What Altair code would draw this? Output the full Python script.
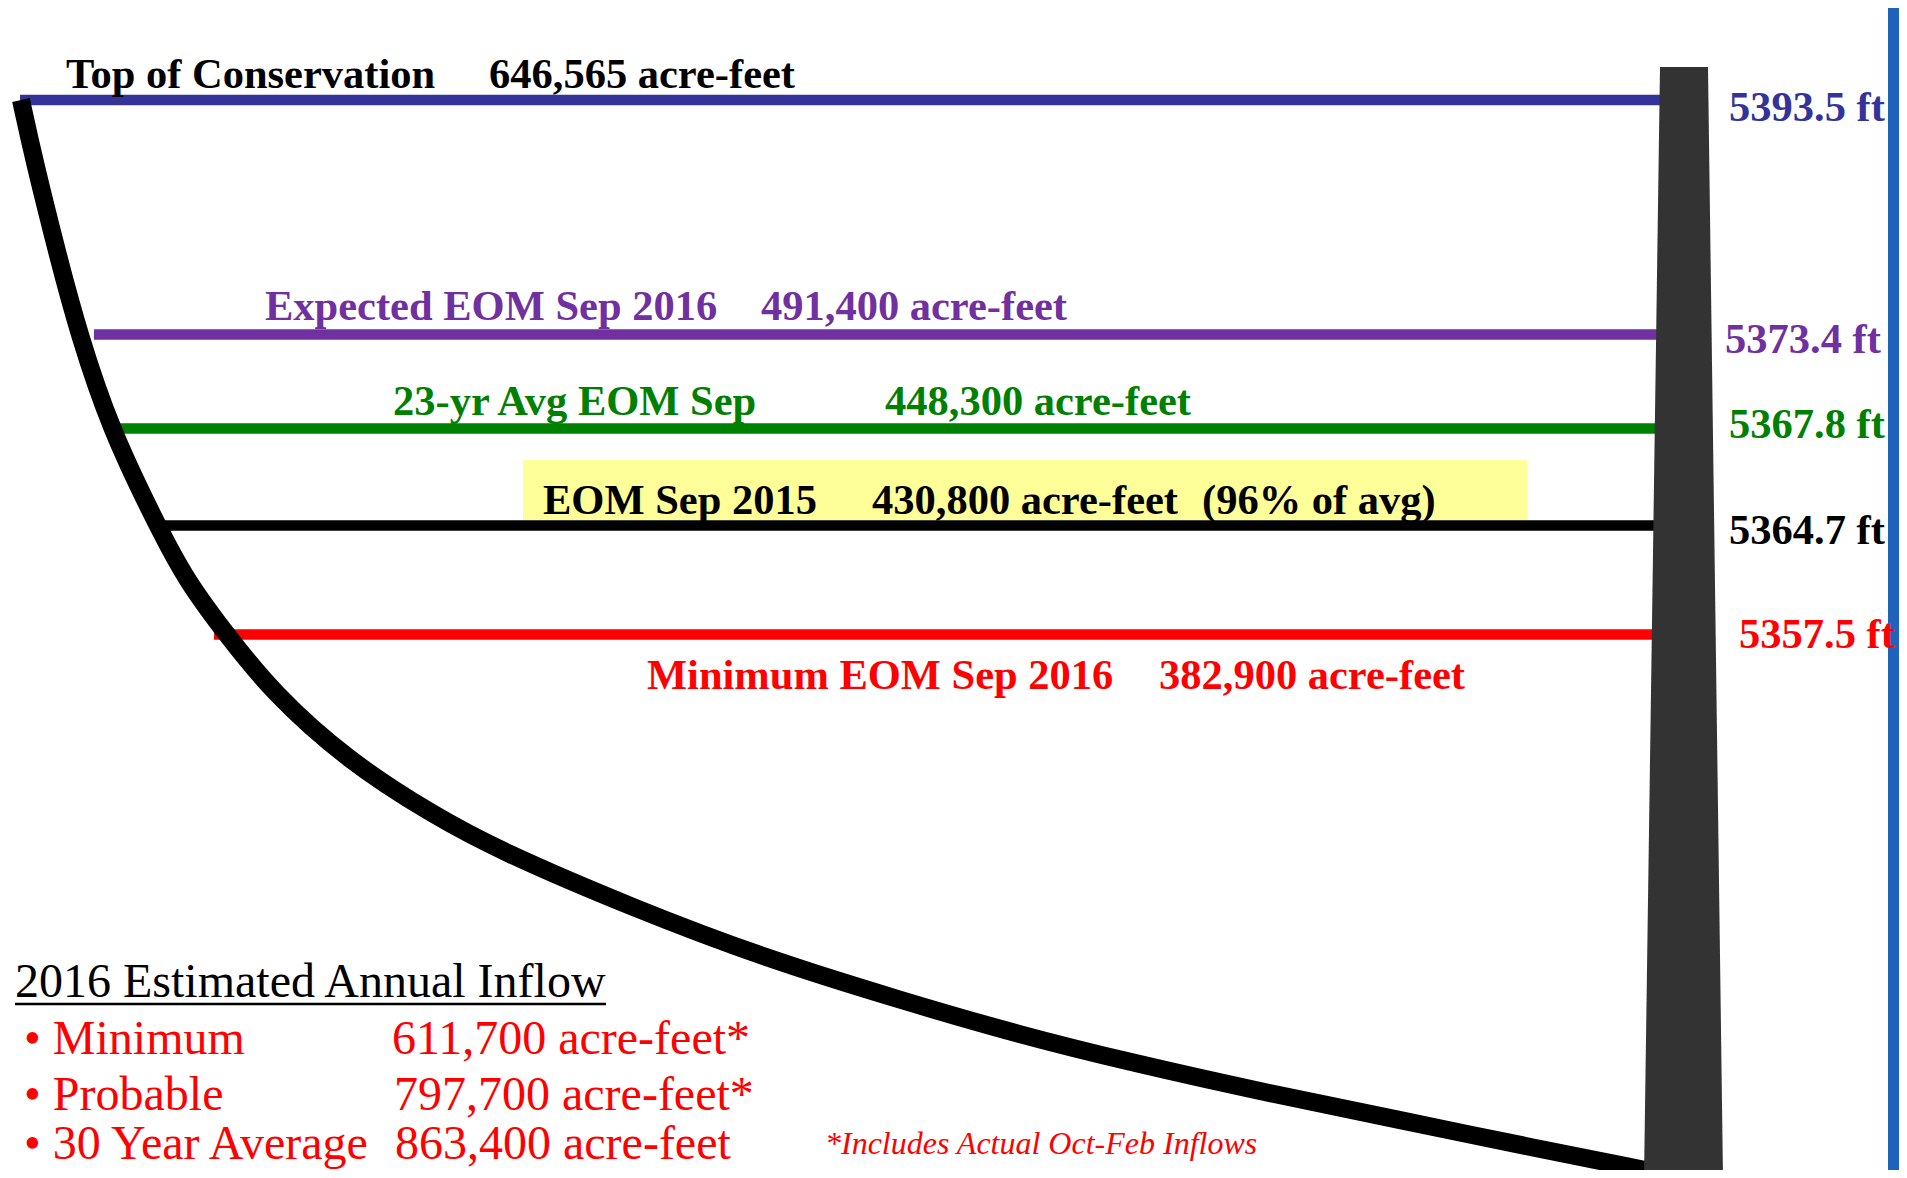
import altair as alt
import pandas as pd

# ---------------- data (diagram units = reference pixels) ----------------
level_names = ["Top of Conservation", "Expected EOM Sep 2016", "23-yr Avg EOM Sep",
               "EOM Sep 2015", "Minimum EOM Sep 2016"]
level_volumes = ["646,565 acre-feet", "491,400 acre-feet", "448,300 acre-feet",
                 "430,800 acre-feet", "382,900 acre-feet"]
level_elev = ["5393.5 ft", "5373.4 ft", "5367.8 ft", "5364.7 ft", "5357.5 ft"]
level_colors = ["#333399", "#7030A0", "#008000", "#000000", "#FF0000"]
name_colors = ["#000000", "#7030A0", "#008000", "#000000", "#FF0000"]
level_pos = [100, 334.5, 428.5, 525.5, 634.5]
line_start = [20, 94, 115, 160, 214]
line_end = 1665
name_x = [66, 265, 393, 543, 647]
name_y = [88, 320, 415, 514, 689]
vol_x = [489, 761, 885, 872, 1159]
extra_text = "(96% of avg)"
extra_x = 1202
elev_x = [1729, 1725, 1729, 1729, 1739]
elev_y = [121, 353, 438, 544, 648]

highlight_x = [523, 1527]
highlight_y = [460, 520]

curve_x = [21, 34, 59, 79, 110, 157, 186, 226, 273, 347, 433, 500, 633, 767,
           900, 1020, 1133, 1267, 1400, 1520, 1650]
curve_y = [100, 160, 260, 334, 428, 525, 580, 634, 693, 760, 815, 851, 908, 959,
           1000, 1035, 1063, 1093, 1120, 1145, 1171]

dam_y = [67, 1178]
dam_left = [1660, 1644]
dam_right = [1708, 1723]

inflow_title = "2016 Estimated Annual Inflow"
inflow_labels = ["\u2022 Minimum", "\u2022 Probable", "\u2022 30 Year Average"]
inflow_values = ["611,700 acre-feet*", "797,700 acre-feet*", "863,400 acre-feet"]
inflow_label_x = 24
inflow_value_x = [392, 394, 395]
inflow_y = [1054, 1110, 1159]
title_x, title_y = 15, 997
underline_x = [15, 606]
underline_y = 1004
footnote = "*Includes Actual Oct-Feb Inflows"
footnote_x, footnote_y = 825, 1154

border_x = [1888, 1899]
border_y = [8, 1170]

FONT = "Liberation Serif"

# ---------------- scales ----------------
xs = alt.Scale(domain=[8, 1899], nice=False, zero=False)
ys = alt.Scale(domain=[8, 1170], nice=False, zero=False, reverse=True)


def X(f):
    return alt.X(f, type="quantitative", scale=xs, axis=None)


def Y(f):
    return alt.Y(f, type="quantitative", scale=ys, axis=None)


# ---------------- layers ----------------
border = alt.Chart(pd.DataFrame({"x": [border_x[0]], "x2": [border_x[1]],
                                 "y": [border_y[0]], "y2": [border_y[1]]})).mark_rect(
    color="#1E63B9").encode(x=X("x"), x2="x2", y=Y("y"), y2="y2")

highlight = alt.Chart(pd.DataFrame({"x": [highlight_x[0]], "x2": [highlight_x[1]],
                                    "y": [highlight_y[0]], "y2": [highlight_y[1]]})).mark_rect(
    color="#FFFF99").encode(x=X("x"), x2="x2", y=Y("y"), y2="y2")

levels_df = pd.DataFrame({
    "x": line_start, "x2": [line_end] * 5, "y": level_pos, "c": level_colors
})
levels = alt.Chart(levels_df).mark_rule(strokeWidth=10.5).encode(
    x=X("x"), x2="x2", y=Y("y"), color=alt.Color("c:N", scale=None))

curve_df = pd.DataFrame({"x": curve_x, "y": curve_y, "i": list(range(len(curve_x)))})
curve = alt.Chart(curve_df).mark_line(
    color="black", strokeWidth=18, strokeCap="butt", interpolate="basis").encode(
    x=X("x"), y=Y("y"), order="i:Q")

dam_df = pd.DataFrame({"y": dam_y, "xl": dam_left, "xr": dam_right})
dam = alt.Chart(dam_df).mark_area(orient="horizontal", color="#333333").encode(
    y=Y("y"), x=X("xl"), x2="xr")

bold_rows = []
for i in range(5):
    bold_rows.append({"x": name_x[i], "y": name_y[i], "t": level_names[i], "c": name_colors[i]})
    bold_rows.append({"x": vol_x[i], "y": name_y[i], "t": level_volumes[i], "c": name_colors[i]})
    bold_rows.append({"x": elev_x[i], "y": elev_y[i], "t": level_elev[i], "c": level_colors[i]})
bold_rows.append({"x": extra_x, "y": name_y[3], "t": extra_text, "c": name_colors[3]})
bold_text = alt.Chart(pd.DataFrame(bold_rows)).mark_text(
    align="left", baseline="alphabetic", font=FONT, fontWeight="bold", fontSize=42.5).encode(
    x=X("x"), y=Y("y"), text="t:N", color=alt.Color("c:N", scale=None))

reg_rows = [{"x": title_x, "y": title_y, "t": inflow_title, "c": "#000000"}]
for i in range(3):
    reg_rows.append({"x": inflow_label_x, "y": inflow_y[i], "t": inflow_labels[i], "c": "#FF0000"})
    reg_rows.append({"x": inflow_value_x[i], "y": inflow_y[i], "t": inflow_values[i], "c": "#FF0000"})
reg_text = alt.Chart(pd.DataFrame(reg_rows)).mark_text(
    align="left", baseline="alphabetic", font=FONT, fontSize=48).encode(
    x=X("x"), y=Y("y"), text="t:N", color=alt.Color("c:N", scale=None))

underline = alt.Chart(pd.DataFrame({"x": [underline_x[0]], "x2": [underline_x[1]],
                                    "y": [underline_y]})).mark_rule(
    color="black", strokeWidth=2.5).encode(x=X("x"), x2="x2", y=Y("y"))

foot = alt.Chart(pd.DataFrame({"x": [footnote_x], "y": [footnote_y], "t": [footnote]})).mark_text(
    align="left", baseline="alphabetic", font=FONT, fontStyle="italic", fontSize=32,
    color="#FF0000").encode(x=X("x"), y=Y("y"), text="t:N")

chart = alt.layer(border, highlight, levels, curve, dam, bold_text, reg_text,
                  underline, foot).properties(
    width=1891, height=1162,
    autosize=alt.AutoSizeParams(type="none"),
    padding=0,
    background="white",
).configure_view(stroke=None)

chart.save("out.html", embed_options={"renderer": "svg", "actions": False})
